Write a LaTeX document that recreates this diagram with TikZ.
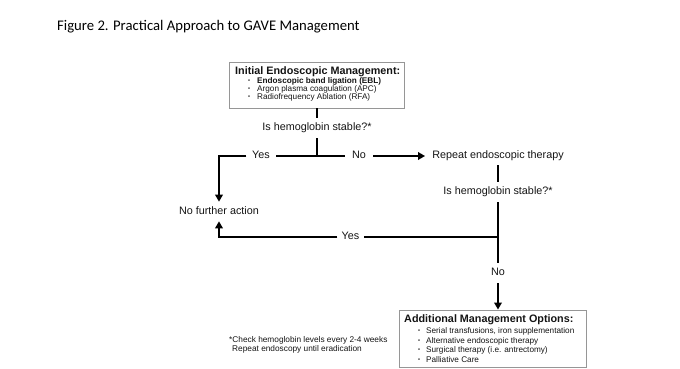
\documentclass[tikz,border=0pt]{standalone}
\usepackage{fontspec}
\usepackage{graphicx}
\setmainfont{Liberation Sans}
\newfontfamily\titlefont{Carlito}
\usetikzlibrary{arrows.meta}
\definecolor{boxgray}{RGB}{150,150,150}
\definecolor{ink}{RGB}{20,20,20}
\newcommand\ibul[1]{\makebox[#1][l]{\raisebox{0.6pt}{\scalebox{0.7}{\textbullet}}}}
\begin{document}
\begin{tikzpicture}[x=1pt,y=-1pt,
  conn/.style={line width=2.3pt,draw=black},
  arr/.style={conn,-{Triangle[length=7pt,width=7.5pt]}},
  lbl/.style={font=\fontsize{10.8}{13}\selectfont, text=ink, inner xsep=5pt, inner ysep=5pt, text height=7.9pt, text depth=2.3pt},
  boxnode/.style={draw=boxgray, line width=0.9pt, inner sep=0pt},
  boxtitle/.style={anchor=base west, inner sep=0pt, text=ink, font=\fontsize{10.8}{13}\selectfont\bfseries},
  itm/.style={anchor=base west, inner sep=0pt, text=ink, font=\fontsize{8.2}{9}\selectfont},
  note/.style={anchor=base west, inner sep=0pt, text=ink, font=\fontsize{8.3}{9}\selectfont}]
\useasboundingbox (0,0) rectangle (680,368);

% title
\node[anchor=base west, inner sep=0pt, font=\titlefont\fontsize{14.7}{17}\selectfont] (title) at (57,30) {Figure 2. Practical Approach to GAVE Management};

% initial box
\node[boxnode, minimum width=175pt, minimum height=46pt] (init) at (317,85) {};
\node[boxtitle] (initT) at (235,74) {Initial Endoscopic Management:};
\node[itm] (i1) at (248,83) {\ibul{9pt}\textbf{Endoscopic band ligation (EBL)}};
\node[itm] (i2) at (248,91) {\ibul{9pt}Argon plasma coagulation (APC)};
\node[itm] (i3) at (248,99) {\ibul{9pt}Radiofrequency Ablation (RFA)};

% flow labels
\node[lbl] (q1) at (317,128) {Is hemoglobin stable?*};
\node[lbl, inner xsep=5.5pt] (yes1) at (261,156) {Yes};
\node[lbl, inner xsep=7pt] (no1) at (359,156) {No};
\node[lbl, inner xsep=7pt, inner ysep=4pt] (rep) at (498,156) {Repeat endoscopic therapy};
\node[lbl] (q2) at (498,192) {Is hemoglobin stable?*};
\node[lbl, inner ysep=4.5pt] (nfa) at (219,211.5) {No further action};
\node[lbl, inner xsep=4pt] (yes2) at (350.5,237) {Yes};
\node[lbl] (no2) at (498,273) {No};

% additional box
\node[boxnode, minimum width=187pt, minimum height=57pt] (add) at (492.5,338.5) {};
\node[boxtitle] (addT) at (404,322.5) {Additional Management Options:};
\node[itm] (a1) at (418,333.5) {\ibul{8pt}Serial transfusions, iron supplementation};
\node[itm] (a2) at (418,343) {\ibul{8pt}Alternative endoscopic therapy};
\node[itm] (a3) at (418,352.5) {\ibul{8pt}Surgical therapy (i.e. antrectomy)};
\node[itm] (a4) at (418,362) {\ibul{8pt}Palliative Care};

% footnote
\node[note] (f1) at (229,342) {*Check hemoglobin levels every 2-4 weeks};
\node[note] (f2) at (232,351.5) {Repeat endoscopy until eradication};

% connectors
\coordinate (j1) at (q1.south |- yes1);
\coordinate (j2) at (q2.south |- yes2);
\draw[conn] (init.south) -- (q1.north);
\draw[conn] (q1.south) -- (j1);
\draw[conn] (j1) -- (yes1.east);
\draw[arr] (yes1.west) -| (nfa.north);
\draw[conn] (j1) -- (no1.west);
\draw[arr] (no1.east) -- (rep.west);
\draw[conn] (rep.south) -- (q2.north);
\draw[conn] (q2.south) -- (no2.north);
\draw[conn] (j2) -- (yes2.east);
\draw[arr] (yes2.west) -| (nfa.south);
\draw[arr] (no2.south) -- (no2.south |- add.north);
\end{tikzpicture}
\end{document}
